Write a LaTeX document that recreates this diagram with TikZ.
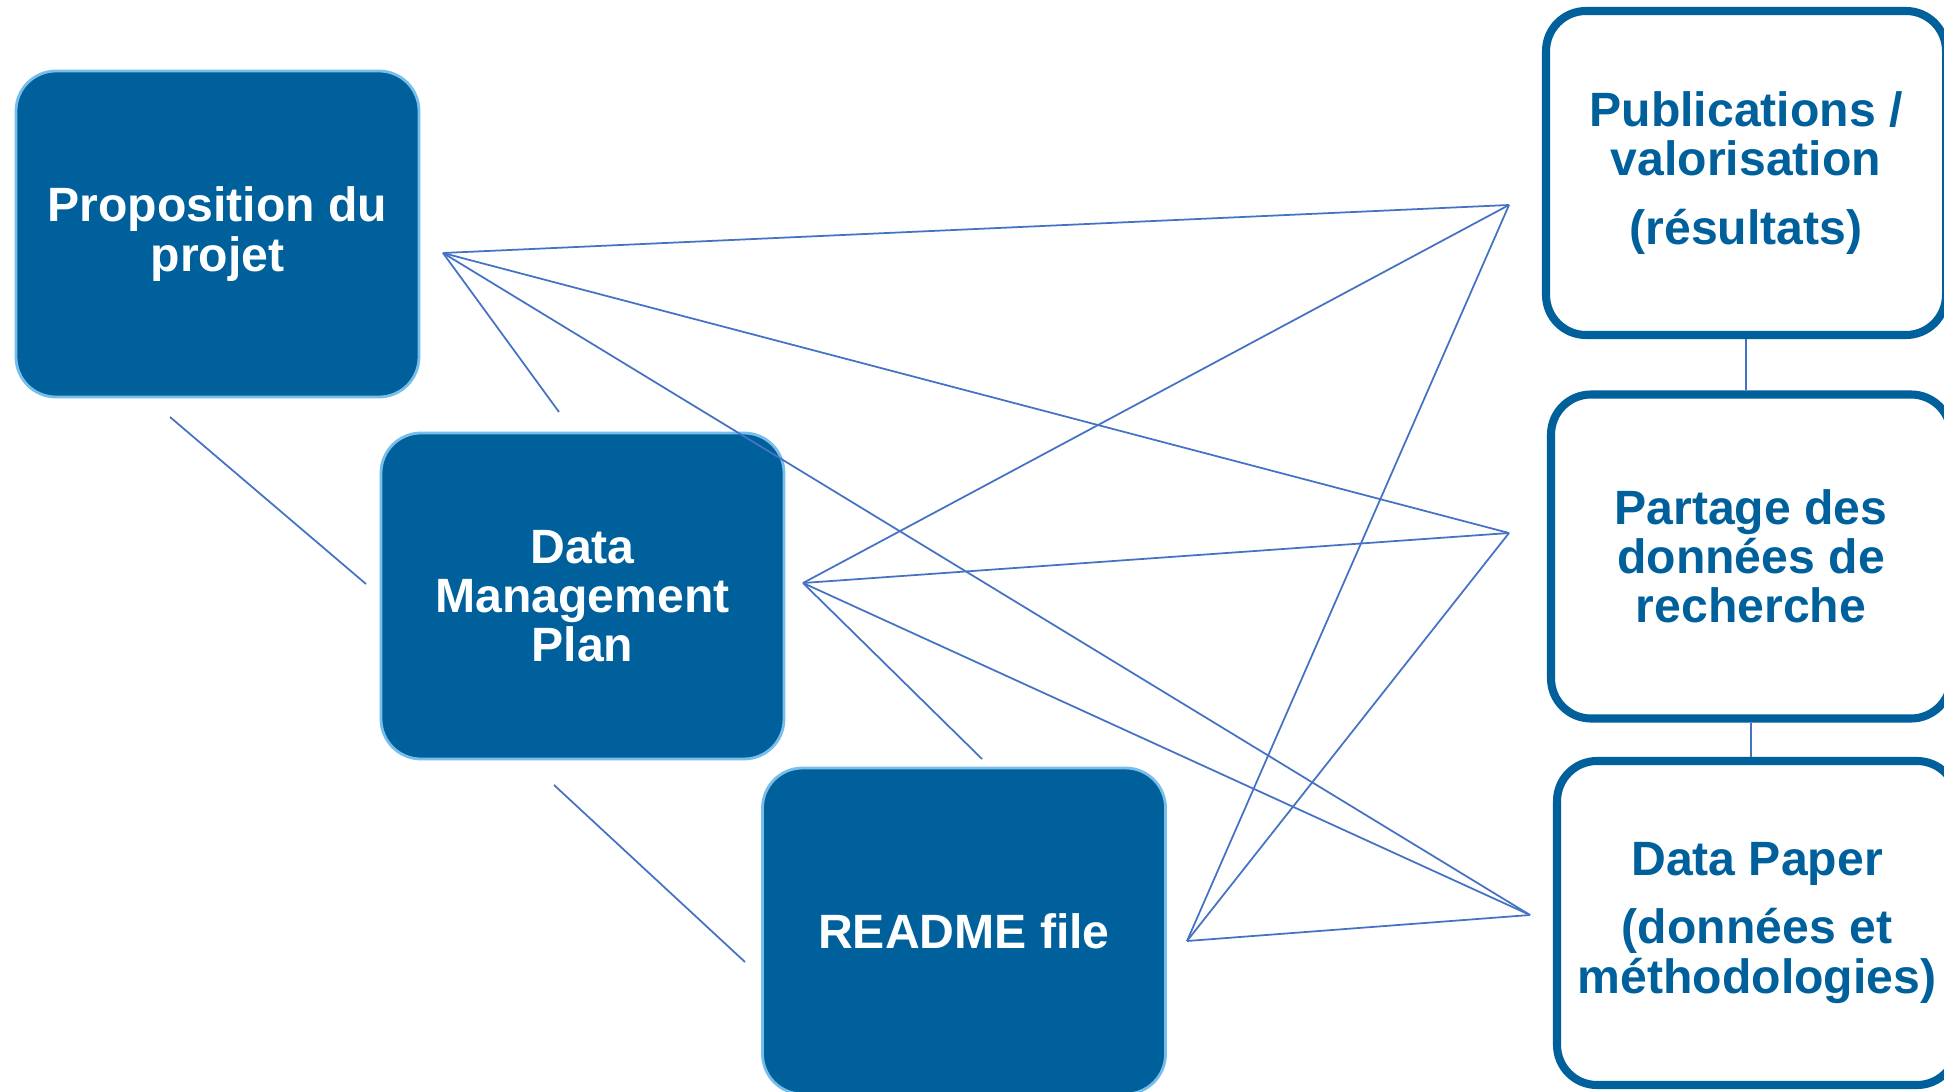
\documentclass[tikz,border=0pt]{standalone}
\usepackage{fontspec}
\setmainfont{Liberation Sans}
\definecolor{boxblue}{RGB}{0,96,156}
\definecolor{edgeblue}{RGB}{120,190,235}
\definecolor{linkblue}{RGB}{68,114,196}
\tikzset{
  fullbox/.style={fill=boxblue, draw=edgeblue, line width=0.8pt, rounded corners=0.4cm,
    minimum width=4.03cm, minimum height=3.26cm, text=white, align=center,
    font=\fontsize{13.7}{14}\selectfont\bfseries},
  openbox/.style={fill=white, draw=boxblue, line width=2.3pt, rounded corners=0.4cm,
    minimum width=4cm, minimum height=3.24cm, text=boxblue, align=center,
    font=\fontsize{13.7}{14}\selectfont\bfseries},
  link/.style={draw=linkblue, line width=0.5pt}
}
\begin{document}
\begin{tikzpicture}
            \useasboundingbox (0,0) rectangle (19.44,-10.92);

            \node[fullbox] (Prop) at (2.175,-2.34) {Proposition du\\projet};
            \node[fullbox] (DMP) at (5.825,-5.96) {Data\\Management\\Plan};
            \node[fullbox] (README) at (9.64,-9.31) {README file};

            \node[openbox] (Pub) at (17.46,-1.73) {Publications /\\valorisation\\[5.4pt](résultats)};
            \node[openbox] (Part) at (17.51,-5.565) {Partage des\\données de\\recherche};
            \node[openbox] (DP) at (17.57,-9.23) {Data Paper\\[5.4pt](données et\\méthodologies)};

            \draw[link] (Pub.south) -- (Pub.south |- Part.north);
            \draw[link] (Part.south) -- (Part.south |- DP.north);

            \coordinate (HProp) at (4.43,-2.53);
            \coordinate (HDMP) at (8.03,-5.83);
            \coordinate (HREADME) at (11.87,-9.41);
            \coordinate (HPub) at (15.09,-2.05);
            \coordinate (HPart) at (15.09,-5.33);
            \coordinate (HDP) at (15.30,-9.15);

            \coordinate (S1) at (5.59,-4.12);
            \coordinate (S2) at (9.82,-7.59);
            \coordinate (S3a) at (1.70,-4.17);
            \coordinate (S3b) at (3.66,-5.84);
            \coordinate (S4a) at (5.54,-7.85);
            \coordinate (S4b) at (7.45,-9.62);

            \draw[link] (S3a) -- (S3b);
            \draw[link] (S4a) -- (S4b);

            \draw[link] (HProp) -- (S1);
            \draw[link] (HProp) -- (HPub);
            \draw[link] (HProp) -- (HPart);
            \draw[link] (HProp) -- (HDP);

            \draw[link] (HDMP) -- (S2);
            \draw[link] (HDMP) -- (HPub);
            \draw[link] (HDMP) -- (HPart);
            \draw[link] (HDMP) -- (HDP);

            \draw[link] (HREADME) -- (HPub);
            \draw[link] (HREADME) -- (HPart);
            \draw[link] (HREADME) -- (HDP);

        \end{tikzpicture}
\end{document}
